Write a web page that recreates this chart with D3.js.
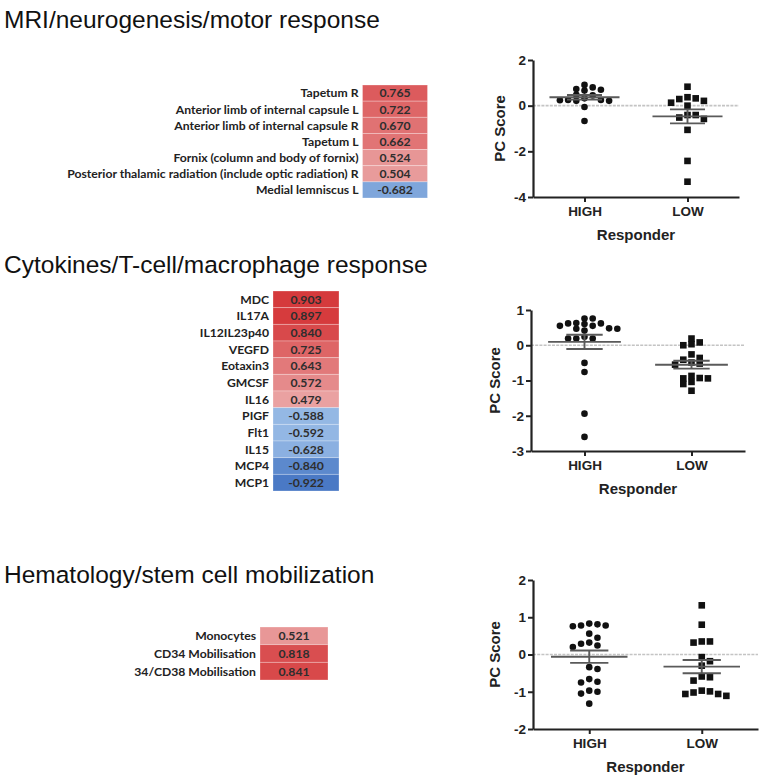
<!DOCTYPE html>
<html><head><meta charset="utf-8">
<script src="https://cdn.jsdelivr.net/npm/d3@7"></script>
<style>body{margin:0;background:#fff} svg{display:block}</style>
</head><body>
<svg id="chart" width="765" height="782"></svg>
<script>
// ---------- DATA ----------
const sectionTitles = ["MRI/neurogenesis/motor response", "Cytokines/T-cell/macrophage response", "Hematology/stem cell mobilization"];

const mriLabels = ["Tapetum R", "Anterior limb of internal capsule L", "Anterior limb of internal capsule R", "Tapetum L", "Fornix (column and body of fornix)", "Posterior thalamic radiation (include optic radiation) R", "Medial lemniscus L"];
const mriValues = [0.765, 0.722, 0.670, 0.662, 0.524, 0.504, -0.682];

const cytoLabels = ["MDC", "IL17A", "IL12IL23p40", "VEGFD", "Eotaxin3", "GMCSF", "IL16", "PIGF", "Flt1", "IL15", "MCP4", "MCP1"];
const cytoValues = [0.903, 0.897, 0.840, 0.725, 0.643, 0.572, 0.479, -0.588, -0.592, -0.628, -0.840, -0.922];

const hemaLabels = ["Monocytes", "CD34 Mobilisation", "34/CD38 Mobilisation"];
const hemaValues = [0.521, 0.818, 0.841];

const groups = ["HIGH", "LOW"];

const mriHigh = [0.91, 0.80, 0.73, 0.70, 0.66, 0.48, 0.45, 0.25, 0.21, 0.32, 0.21, 0.25, 0.24, -0.06, -0.67];
const mriLow = [0.83, 0.32, 0.21, 0.00, 0.13, 0.29, 0.37, -0.41, -0.52, -0.58, -0.41, -1.06, -2.42, -3.33];

const cytoHigh = [0.76, 0.76, 0.62, 0.60, 0.62, 0.63, 0.55, 0.47, 0.47, 0.48, 0.55, 0.42, 0.19, 0.19, 0.19, 0.24, -0.50, -0.76, -1.94, -2.60];
const cytoLow = [0.08, 0.00, 0.03, 0.19, -0.26, -0.36, -0.49, -0.55, -0.52, -0.41, -0.93, -0.94, -1.04, -1.10, -0.94, -0.87, -1.29];

const hemaHigh = [0.83, 0.78, 0.76, 0.78, 0.81, 0.56, 0.45, 0.29, 0.20, 0.24, 0.32, -0.34, -0.39, -0.66, -0.75, -0.73, -1.00, -1.05, -0.97, -1.32];
const hemaLow = [1.32, 0.80, 0.35, 0.32, 0.35, -0.07, -0.18, -0.30, -0.61, -0.70, -0.59, -0.99, -1.06, -1.11, -1.06, -1.02, -0.97];

const mriTicks = [2, 0, -2, -4];
const cytoTicks = [1, 0, -1, -2, -3];
const hemaTicks = [2, 1, 0, -1, -2];

// ---------- LAYOUT ----------
const svg = d3.select("#chart");
svg.append("rect").attr("width", 765).attr("height", 782).attr("fill", "#fff");

const titleLayout = [{x: 4, y: 28}, {x: 4, y: 273}, {x: 4, y: 583}];
svg.selectAll("text.title").data(sectionTitles).join("text")
  .attr("class", "title")
  .attr("x", (d, i) => titleLayout[i].x).attr("y", (d, i) => titleLayout[i].y)
  .attr("font-family", "'Liberation Sans', Arial, sans-serif")
  .attr("font-size", 24.5).attr("fill", "#111").text(d => d);

const posColor = d3.scaleLinear().domain([0.47, 0.91]).range(["#eaa3a3", "#d5383a"]).clamp(true);
const negColor = d3.scaleLinear().domain([-0.57, -0.93]).range(["#98bbe6", "#4878c4"]).clamp(true);
const fmt3 = v => v.toFixed(3);

function heatmap(labels, values, cfg) {
  const g = svg.append("g");
  const y = d3.scaleBand().domain(labels).range([cfg.top, cfg.bottom]);
  const rows = g.selectAll("g").data(labels.map((l, i) => ({l, v: values[i]}))).join("g");
  rows.append("rect")
    .attr("x", cfg.left).attr("y", d => y(d.l))
    .attr("width", cfg.right - cfg.left).attr("height", y.bandwidth())
    .attr("fill", d => d.v >= 0 ? posColor(d.v) : negColor(d.v))
    .attr("stroke", "rgba(255,255,255,0.35)").attr("stroke-width", 0.8);
  rows.append("text")
    .attr("x", (cfg.left + cfg.right) / 2).attr("y", d => y(d.l) + y.bandwidth() / 2)
    .attr("dy", "0.36em").attr("text-anchor", "middle")
    .attr("font-family", "Lato, 'Open Sans', sans-serif").attr("font-size", cfg.fs)
    .attr("font-weight", 700).attr("fill", "#2e2e2e")
    .text(d => fmt3(d.v));
  rows.append("text")
    .attr("x", cfg.left - 4).attr("y", d => y(d.l) + y.bandwidth() / 2)
    .attr("dy", "0.36em").attr("text-anchor", "end")
    .attr("font-family", "Lato, 'Open Sans', sans-serif").attr("font-size", cfg.fs)
    .attr("font-weight", 700).attr("fill", "#222")
    .text(d => d.l);
}

heatmap(mriLabels, mriValues, {left: 362.5, right: 427.5, top: 85, bottom: 198, fs: 12.2});
heatmap(cytoLabels, cytoValues, {left: 273, right: 339, top: 291, bottom: 491, fs: 12.2});
heatmap(hemaLabels, hemaValues, {left: 260, right: 328, top: 627, bottom: 680, fs: 12.2});

function swarm(vals, y, step, d) {
  const order = vals.map((v, i) => i).sort((a, b) => vals[b] - vals[a]);
  const placed = [];
  const off = new Array(vals.length);
  for (const i of order) {
    const py = y(vals[i]);
    const near = placed.filter(p => Math.abs(p.y - py) < d);
    const ok = o => near.every(p => Math.abs(p.x - o) >= step * 0.95);
    let chosen = 0;
    for (let k = 0; k < 60; k++) {
      const o = k * step / 2;
      if (k === 0) { if (ok(0)) { chosen = 0; break; } continue; }
      const bias = d3.sum(placed.filter(p => Math.abs(p.y - py) < 2 * d), p => p.x);
      const cands = bias > 0 ? [-o, o] : [o, -o];
      const f = cands.find(ok);
      if (f !== undefined) { chosen = f; break; }
    }
    off[i] = chosen;
    placed.push({x: chosen, y: py});
  }
  return off;
}

function scatter(high, low, ticks, cfg) {
  const g = svg.append("g");
  const font = "'Liberation Sans', Arial, sans-serif";
  const y = d3.scaleLinear().domain(d3.extent(ticks)).range([cfg.bottom, cfg.top]);
  const x = d3.scalePoint().domain(groups).range([cfg.axisX, cfg.xEnd]).padding(0.5);
  const step = x.step();

  // zero reference line
  g.append("line").attr("x1", cfg.axisX).attr("x2", cfg.xEnd)
    .attr("y1", y(0)).attr("y2", y(0))
    .attr("stroke", "#c4c4c4").attr("stroke-width", 1.6).attr("stroke-dasharray", "3,1.2");

  // y axis
  const ya = g.append("g").attr("transform", `translate(${cfg.axisX},0)`)
    .call(d3.axisLeft(y).tickValues(ticks).tickSize(5).tickSizeOuter(0).tickFormat(d => String(d)));
  ya.select(".domain").attr("stroke", "#222").attr("stroke-width", 2.2);
  ya.selectAll(".tick line").attr("stroke", "#222").attr("stroke-width", 2);
  ya.selectAll(".tick text").attr("font-family", font).attr("font-size", 13.5).attr("font-weight", "bold")
    .attr("fill", "#222").attr("x", -7);

  // x axis
  const xa = g.append("g").attr("transform", `translate(0,${cfg.bottom})`)
    .call(d3.axisBottom(x).tickSize(5).tickSizeOuter(0));
  xa.select(".domain").attr("stroke", "#222").attr("stroke-width", 2.2);
  xa.selectAll(".tick line").attr("stroke", "#222").attr("stroke-width", 2);
  xa.selectAll(".tick text").attr("font-family", font).attr("font-size", 13.5).attr("font-weight", "bold")
    .attr("fill", "#222").attr("y", 9);

  g.append("text").attr("x", (cfg.axisX + cfg.xEnd) / 2).attr("y", cfg.bottom + 43)
    .attr("text-anchor", "middle").attr("font-family", font).attr("font-size", 15)
    .attr("font-weight", "bold").attr("fill", "#222").text("Responder");
  g.append("text").attr("transform", `translate(${cfg.labelX},${(cfg.top + cfg.bottom) / 2}) rotate(-90)`)
    .attr("text-anchor", "middle").attr("dy", "0.36em").attr("font-family", font).attr("font-size", 15)
    .attr("font-weight", "bold").attr("fill", "#222").text("PC Score");

  [high, low].forEach((vals, gi) => {
    const cx = x(groups[gi]);
    const off = swarm(vals, y, 8.2, 5.6);
    const pts = vals.map((v, i) => ({x: cx + off[i], y: y(v)}));
    if (gi === 0) {
      g.append("g").selectAll("circle").data(pts).join("circle")
        .attr("cx", d => d.x).attr("cy", d => d.y).attr("r", 3.3).attr("fill", "#111");
    } else {
      g.append("g").selectAll("rect").data(pts).join("rect")
        .attr("x", d => d.x - 3.3).attr("y", d => d.y - 3.3).attr("width", 6.6).attr("height", 6.6).attr("fill", "#111");
    }
    const m = d3.mean(vals);
    const sem = d3.deviation(vals) / Math.sqrt(vals.length);
    const lc = "#5a5a5a";
    g.append("line").attr("x1", cx - 0.34 * step).attr("x2", cx + 0.34 * step)
      .attr("y1", y(m)).attr("y2", y(m)).attr("stroke", lc).attr("stroke-width", 1.9);
    [m - sem, m + sem].forEach(v => {
      g.append("line").attr("x1", cx - 0.17 * step).attr("x2", cx + 0.17 * step)
        .attr("y1", y(v)).attr("y2", y(v)).attr("stroke", lc).attr("stroke-width", 1.9);
    });
    g.append("line").attr("x1", cx).attr("x2", cx)
      .attr("y1", y(m - sem)).attr("y2", y(m + sem)).attr("stroke", lc).attr("stroke-width", 1.9);
  });
}

scatter(mriHigh, mriLow, mriTicks, {axisX: 533, xEnd: 739, top: 60, bottom: 197, labelX: 500});
scatter(cytoHigh, cytoLow, cytoTicks, {axisX: 531, xEnd: 745, top: 310, bottom: 451, labelX: 495});
scatter(hemaHigh, hemaLow, hemaTicks, {axisX: 533, xEnd: 758, top: 580, bottom: 729, labelX: 495});
</script>
</body></html>
